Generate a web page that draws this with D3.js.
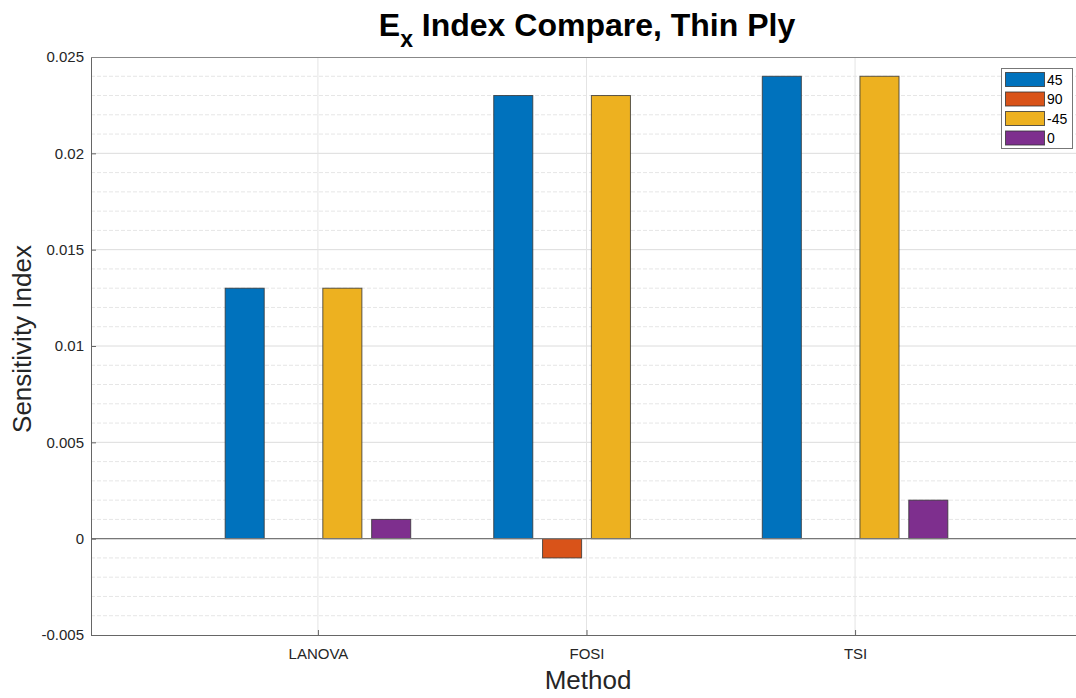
<!DOCTYPE html>
<html>
<head>
<meta charset="utf-8">
<script src="https://cdn.jsdelivr.net/npm/d3@7"></script>
<style>
  html, body { margin: 0; padding: 0; background: #fff; }
  svg { display: block; font-family: "Liberation Sans", Arial, sans-serif; }
</style>
</head>
<body>
<svg id="chart" width="1076" height="698"></svg>
<script>
// Methods compared along the x axis
const methods = ["LANOVA", "FOSI", "TSI"];
// Ply angle series
const series = ["45", "90", "-45", "0"];
const seriesColors = ["#0072BD", "#D95319", "#EDB120", "#7E2F8E"];
// Sensitivity index per series, one value per method
const values45 = [0.013, 0.023, 0.024];
const values90 = [0, -0.001, 0];
const valuesM45 = [0.013, 0.023, 0.024];
const values0 = [0.001, 0, 0.002];
// Y axis tick labels
const yTicks = [-0.005, 0, 0.005, 0.01, 0.015, 0.02, 0.025];
const yTickLabels = ["-0.005", "0", "0.005", "0.01", "0.015", "0.02", "0.025"];

const seriesValues = [values45, values90, valuesM45, values0];

const svg = d3.select("#chart");
const plotLeft = 91, plotRight = 1082, plotTop = 57, plotBottom = 635;

// Category positions 1..3 on a linear scale
const x = d3.scaleLinear().domain([0.155, 3.845]).range([plotLeft, plotRight]);
const y = d3.scaleLinear().domain([-0.005, 0.025]).range([plotBottom, plotTop]);

const nBars = series.length;
const groupWidth = Math.min(0.8, nBars / (nBars + 1.5));
const step = groupWidth / nBars;
const barW = step * 0.8;

// Minor grid (dashed)
const minorTicks = d3.range(-5, 26).filter(k => k % 5 !== 0).map(k => k / 1000);
svg.append("g").selectAll("line").data(minorTicks).join("line")
  .attr("x1", plotLeft).attr("x2", plotRight)
  .attr("y1", d => y(d)).attr("y2", d => y(d))
  .attr("stroke", "#e6e6e6").attr("stroke-width", 1)
  .attr("stroke-dasharray", "4,2");

// Major grid
svg.append("g").selectAll("line").data(yTicks.filter(v => v !== -0.005 && v !== 0.025)).join("line")
  .attr("x1", plotLeft).attr("x2", plotRight)
  .attr("y1", d => y(d)).attr("y2", d => y(d))
  .attr("stroke", "#dcdcdc").attr("stroke-width", 1);

svg.append("g").selectAll("line").data([1, 2, 3]).join("line")
  .attr("x1", d => x(d)).attr("x2", d => x(d))
  .attr("y1", plotTop).attr("y2", plotBottom)
  .attr("stroke", "#e4e4e4").attr("stroke-width", 1);

// Bars
const bars = [];
seriesValues.forEach((vals, si) => {
  vals.forEach((v, mi) => {
    bars.push({ si, mi, v });
  });
});

svg.append("g").selectAll("rect").data(bars).join("rect")
  .attr("x", d => x(d.mi + 1 + (d.si - (nBars - 1) / 2) * step - barW / 2))
  .attr("width", d => x(barW) - x(0))
  .attr("y", d => Math.min(y(d.v), y(0)))
  .attr("height", d => Math.abs(y(d.v) - y(0)))
  .attr("fill", d => seriesColors[d.si])
  .attr("stroke", "#333")
  .attr("stroke-opacity", 0.8)
  .attr("stroke-width", 1);

// Baseline
svg.append("line")
  .attr("x1", plotLeft).attr("x2", plotRight)
  .attr("y1", y(0)).attr("y2", y(0))
  .attr("stroke", "#777").attr("stroke-width", 1.3);

// Axes
const yAxis = d3.axisLeft(y).tickValues(yTicks)
  .tickFormat((d, i) => yTickLabels[i]).tickSize(-5).tickPadding(7);
const gy = svg.append("g").attr("transform", `translate(${plotLeft},0)`).call(yAxis);
gy.select(".domain").attr("stroke", "#666");
gy.selectAll(".tick line").attr("stroke", "#666");
gy.selectAll("text").attr("font-size", 15).attr("fill", "#262626")
  .attr("font-family", "Liberation Sans, Arial, sans-serif");

const xAxis = d3.axisBottom(x).tickValues([1, 2, 3])
  .tickFormat(d => methods[d - 1]).tickSize(-5).tickPadding(13);
const gx = svg.append("g").attr("transform", `translate(0,${plotBottom})`).call(xAxis);
gx.select(".domain").attr("stroke", "#666");
gx.selectAll(".tick line").attr("stroke", "#666");
gx.selectAll("text").attr("font-size", 15).attr("fill", "#262626")
  .attr("font-family", "Liberation Sans, Arial, sans-serif");

// Top border
svg.append("line").attr("x1", plotLeft).attr("x2", plotRight)
  .attr("y1", plotTop + 0.5).attr("y2", plotTop + 0.5)
  .attr("stroke", "#888").attr("stroke-width", 1);

// Axis titles
svg.append("text").attr("x", 588).attr("y", 689)
  .attr("text-anchor", "middle").attr("font-size", 26).attr("fill", "#262626")
  .text("Method");
svg.append("text")
  .attr("transform", "translate(31,339) rotate(-90)")
  .attr("text-anchor", "middle").attr("font-size", 26).attr("fill", "#262626")
  .text("Sensitivity Index");

// Title with subscript
const title = svg.append("text").attr("x", 587).attr("y", 36)
  .attr("text-anchor", "middle").attr("font-size", 32).attr("font-weight", "bold").attr("fill", "#000");
title.append("tspan").text("E");
title.append("tspan").attr("font-size", 23).attr("dy", 11).text("x");
title.append("tspan").attr("dy", -11).text(" Index Compare, Thin Ply");

// Legend
const lg = svg.append("g").attr("transform", "translate(1001,68)");
lg.append("rect").attr("x", 0.5).attr("y", 0.5).attr("width", 71).attr("height", 80)
  .attr("fill", "#fff").attr("stroke", "#777").attr("stroke-width", 1);
series.forEach((s, i) => {
  lg.append("rect").attr("x", 4.5).attr("y", 4.5 + i * 19.5).attr("width", 39).attr("height", 14)
    .attr("fill", seriesColors[i]).attr("stroke", "#333").attr("stroke-opacity", 0.8);
  lg.append("text").attr("x", 46).attr("y", 16.5 + i * 19.5)
    .attr("font-size", 14).attr("fill", "#000").text(s);
});
</script>
</body>
</html>
